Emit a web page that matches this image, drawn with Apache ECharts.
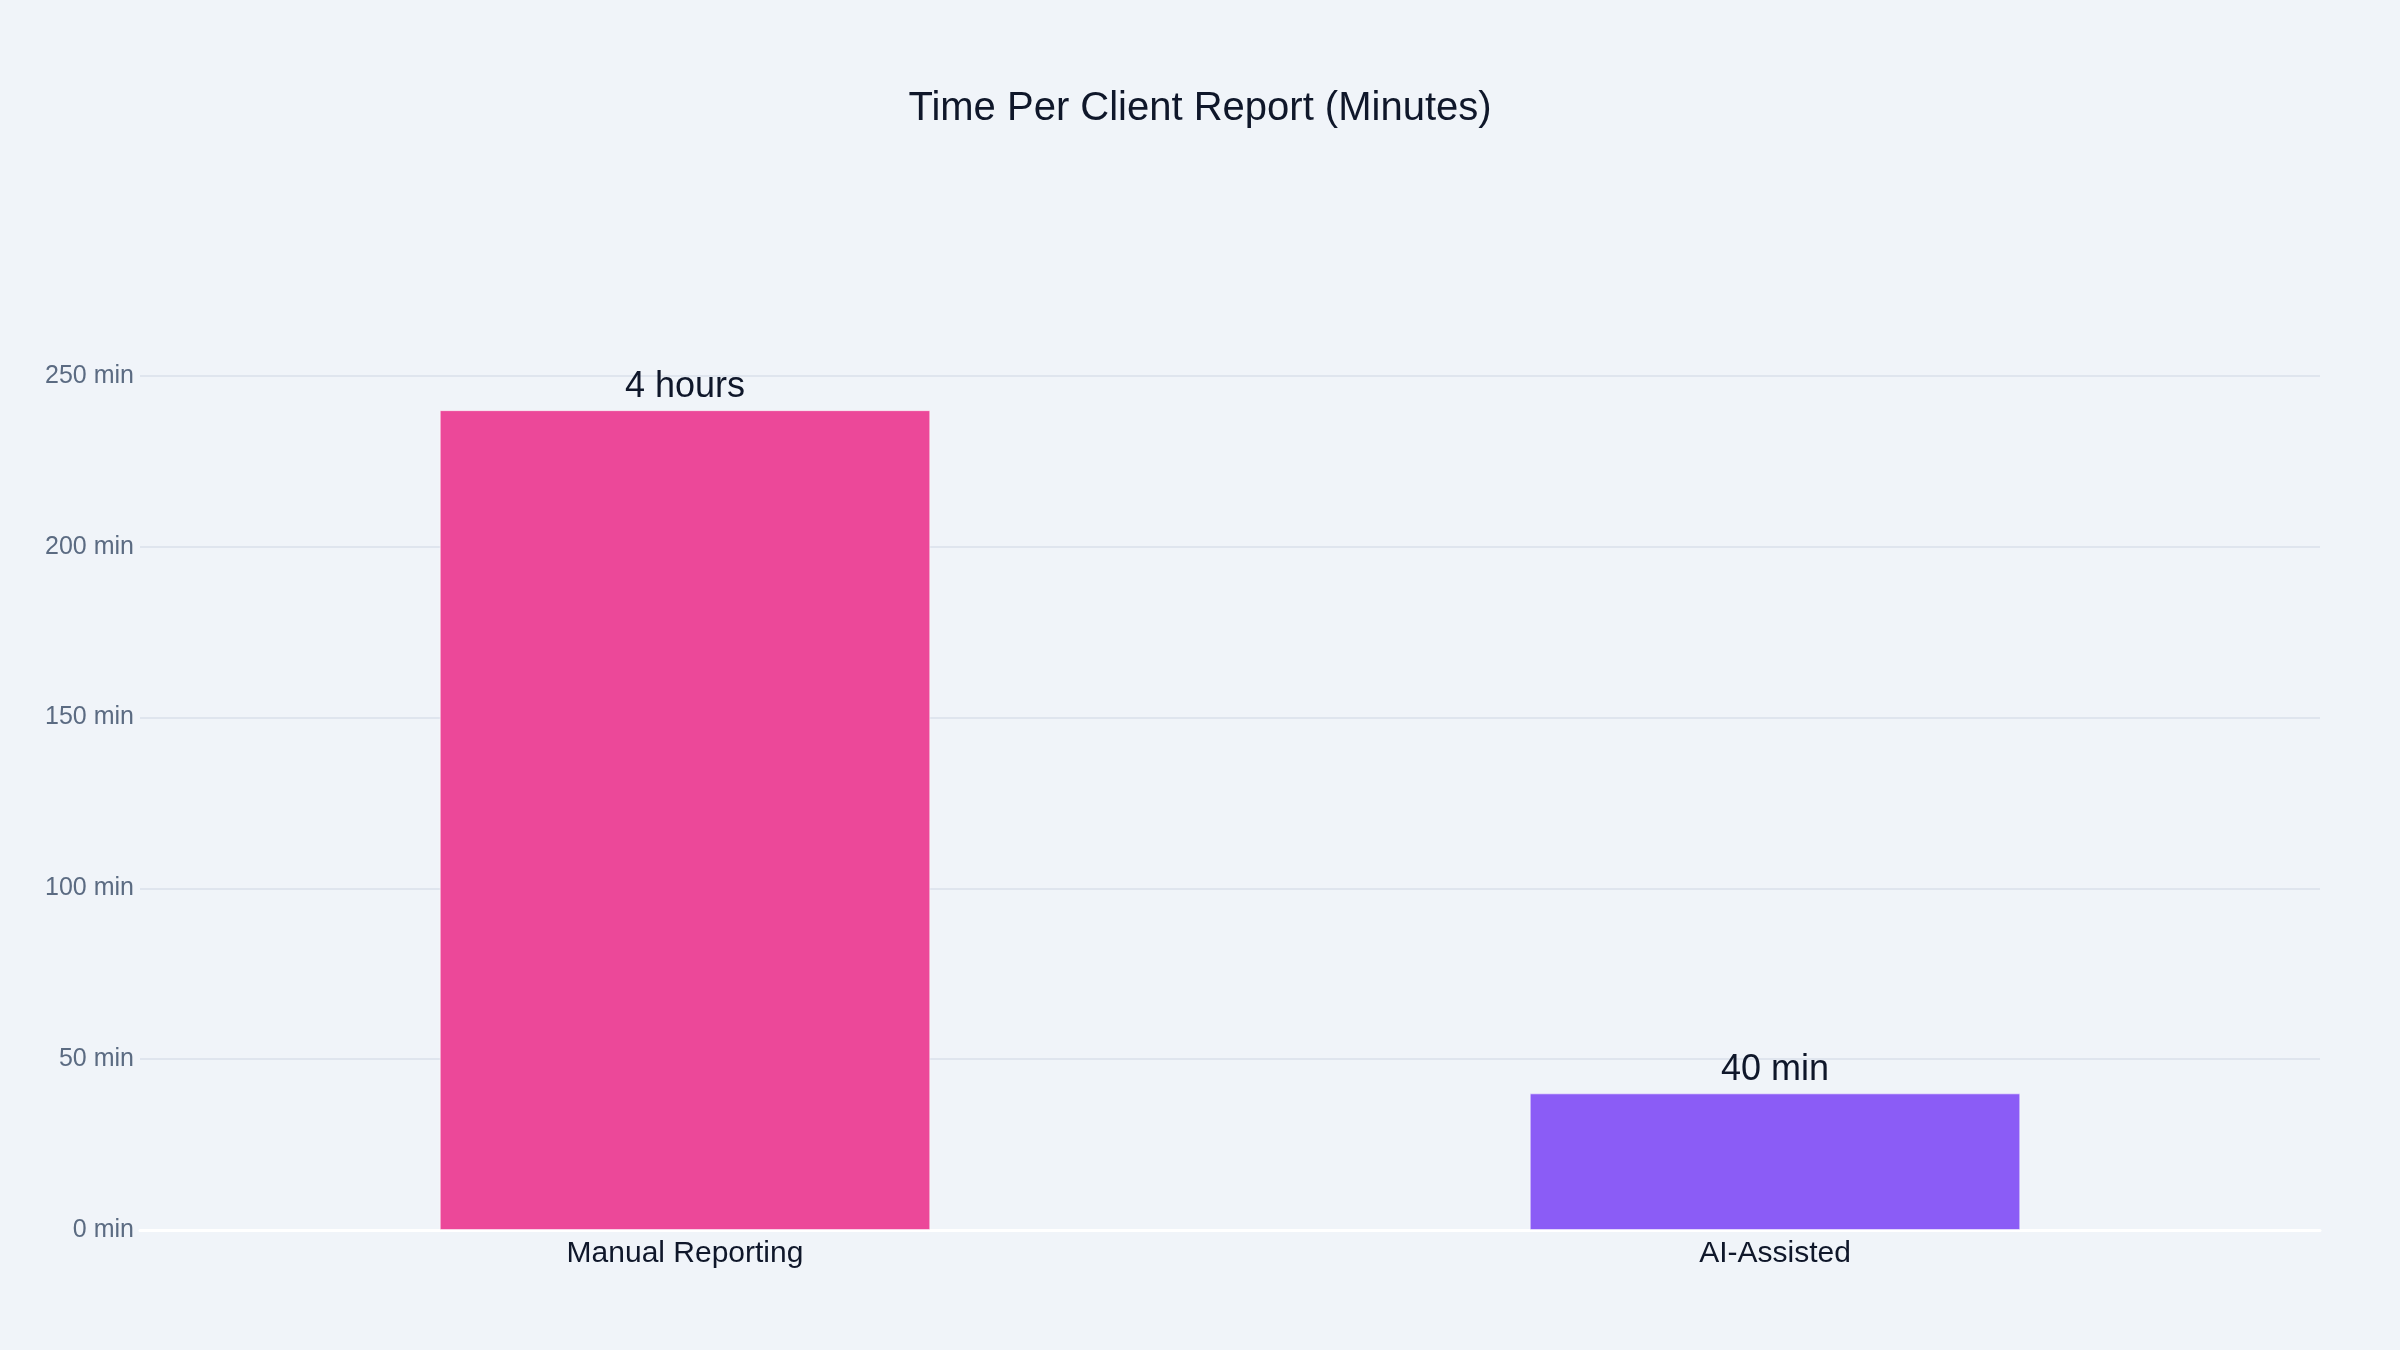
<!DOCTYPE html>
<html>
<head>
<meta charset="utf-8">
<script src="https://cdn.jsdelivr.net/npm/echarts@6/dist/echarts.min.js"></script>
<style>
html,body{margin:0;padding:0;background:#f0f4f9;}
#chart{width:2400px;height:1350px;}
</style>
</head>
<body>
<div id="chart"></div>
<script>
const categories = ["Manual Reporting", "AI-Assisted"];
const minutes = [240, 40];
const barLabels = ["4 hours", "40 min"];
const barColors = ["#ec4899", "#8b5cf6"];
const yTicks = { min: 0, max: 250, interval: 50 };

const chart = echarts.init(document.getElementById('chart'));
const font = 'Liberation Sans, Arial, Helvetica, sans-serif';
chart.setOption({
  backgroundColor: '#f0f4f9',
  animation: false,
  title: {
    text: 'Time Per Client Report (Minutes)',
    left: 'center',
    top: 84,
    textStyle: { fontFamily: font, fontSize: 40, fontWeight: 'normal', color: '#0f172a' }
  },
  grid: { left: 140, right: 80, top: 376, bottom: 120, containLabel: false },
  xAxis: {
    type: 'category',
    data: categories,
    axisLine: { show: true, lineStyle: { color: '#ffffff', width: 3 } },
    axisTick: { show: false },
    axisLabel: { fontFamily: font, fontSize: 30, color: '#0f172a', margin: 9 },
    splitLine: { show: false }
  },
  yAxis: {
    type: 'value',
    min: yTicks.min,
    max: yTicks.max,
    interval: yTicks.interval,
    axisLine: { show: false },
    axisTick: { show: false },
    axisLabel: { fontFamily: font, fontSize: 25, color: '#5b6b82', margin: 6, formatter: '{value} min' },
    splitLine: { lineStyle: { color: '#dfe5ee', width: 2 } }
  },
  series: [{
    type: 'bar',
    barWidth: '45%',
    data: minutes.map((v, i) => ({
      value: v,
      itemStyle: { color: barColors[i], borderColor: 'rgba(255,255,255,0.5)', borderWidth: 1 },
      label: { formatter: barLabels[i] }
    })),
    label: {
      show: true,
      position: 'top',
      distance: 5,
      fontFamily: font,
      fontSize: 36,
      color: '#0f172a'
    }
  }]
});
</script>
</body>
</html>
